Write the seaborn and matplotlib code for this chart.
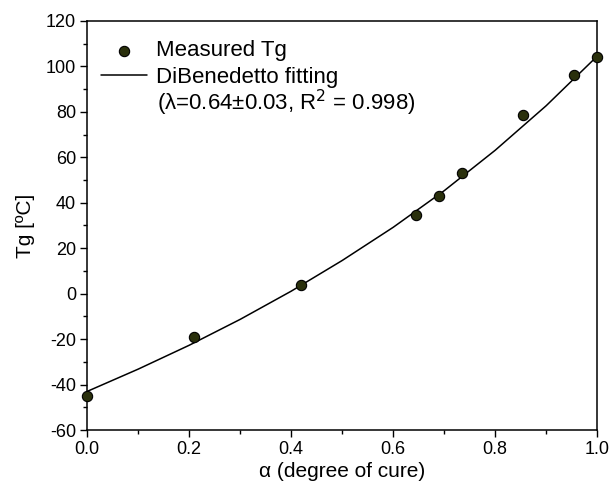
import matplotlib
matplotlib.use("Agg")
import matplotlib.pyplot as plt
import seaborn as sns
import pandas as pd
from matplotlib.ticker import MultipleLocator, AutoMinorLocator

alpha_meas = [0.0, 0.21, 0.42, 0.645, 0.69, 0.735, 0.855, 0.955, 1.0]
tg_meas = [-45, -19, 4, 34.5, 43, 53, 78.5, 96, 104]

alpha_fit = [0.0, 0.1, 0.2, 0.3, 0.4, 0.5, 0.6, 0.7, 0.8, 0.9, 1.0]
tg_fit = [-43.0, -33.2, -22.7, -11.3, 1.1, 14.6, 29.2, 45.3, 63.1, 82.7, 104.5]

meas = pd.DataFrame({"a": alpha_meas, "tg": tg_meas})
fit = pd.DataFrame({"a": alpha_fit, "tg": tg_fit})

sns.set_style("ticks")
plt.rcParams["font.family"] = ["Liberation Sans", "DejaVu Sans"]
plt.rcParams["axes.unicode_minus"] = False
plt.rcParams["text.color"] = "black"
plt.rcParams["axes.labelcolor"] = "black"
plt.rcParams["xtick.color"] = "black"
plt.rcParams["ytick.color"] = "black"
plt.rcParams["axes.edgecolor"] = "black"

fig = plt.figure(figsize=(6.1, 4.87), dpi=100)
ax = fig.add_axes([0.143, 0.117, 0.836, 0.840])

sns.lineplot(data=fit, x="a", y="tg", ax=ax, color="black", lw=1.1,
             label="DiBenedetto fitting", estimator=None, sort=True)
sns.scatterplot(data=meas, x="a", y="tg", ax=ax, s=55, color="#2a300c",
                edgecolor="black", linewidth=0.8, label="Measured Tg",
                clip_on=False, zorder=5)

ax.set_xlim(0, 1.0)
ax.set_ylim(-60, 120)
ax.set_xticks([0.0, 0.2, 0.4, 0.6, 0.8, 1.0])
ax.set_xticklabels(["0.0", "0.2", "0.4", "0.6", "0.8", "1.0"])
ax.xaxis.set_minor_locator(AutoMinorLocator(2))
ax.yaxis.set_major_locator(MultipleLocator(20))
ax.yaxis.set_minor_locator(AutoMinorLocator(2))
ax.tick_params(which="major", direction="out", length=5, width=1, labelsize=13,
               top=False, right=False, pad=3)
ax.tick_params(which="minor", direction="out", length=3, width=1,
               top=False, right=False)
for sp in ax.spines.values():
    sp.set_visible(True)
    sp.set_linewidth(1.1)
    sp.set_color("black")

ax.set_xlabel("α (degree of cure)", fontsize=15, labelpad=3)
ax.set_ylabel("Tg [ºC]", fontsize=15, labelpad=8)

handles, labels = ax.get_legend_handles_labels()
order = [labels.index("Measured Tg"), labels.index("DiBenedetto fitting")]
leg = ax.legend([handles[i] for i in order], [labels[i] for i in order],
                loc="upper left", frameon=False, fontsize=16,
                bbox_to_anchor=(0.0, 0.985), handlelength=2.1,
                handletextpad=0.4, labelspacing=0.25, borderaxespad=0.2)
ax.text(0.137, 0.80, "(λ=0.64±0.03, R$^2$ = 0.998)", transform=ax.transAxes,
        fontsize=16, va="center", ha="left")

fig.savefig("out.png", dpi=100)
